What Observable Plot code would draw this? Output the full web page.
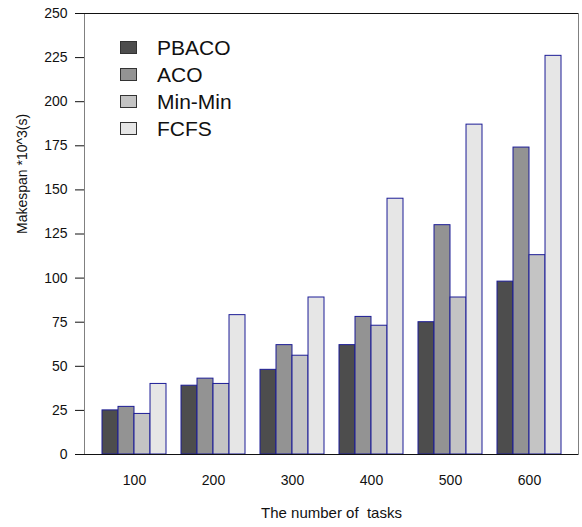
<!DOCTYPE html>
<html><head><meta charset="utf-8">
<script src="https://cdn.jsdelivr.net/npm/d3@7"></script>
<script src="https://cdn.jsdelivr.net/npm/@observablehq/plot@0.6"></script>
<style>
body{margin:0;background:#fff;font-family:"Liberation Sans",Arial,sans-serif;}
#wrap{position:relative;width:582px;height:527px;}
#legend{position:absolute;left:120px;top:34px;font-size:21px;color:#111;}
#legend .row{display:flex;align-items:center;height:27px;}
#legend .sw{width:17px;height:13px;border:1px solid #333;margin-right:20px;box-sizing:border-box;}
</style></head>
<body><div id="wrap"><div id="legend"></div></div>
<script>
const tasks = ["100","200","300","400","500","600"];
const series = ["PBACO","ACO","Min-Min","FCFS"];
const colors = ["#4d4d4d","#939393","#c4c4c4","#e6e6e6"];
const PBACO = [25,39,48,62,75,98];
const ACO = [27,43,62,78,130,174];
const MinMin = [23,40,56,73,89,113];
const FCFS = [40,79,89,145,187,226];
const yTicks = [0,25,50,75,100,125,150,175,200,225,250];
const xTitle = "The number of\u00a0 tasks";
const yTitle = "Makespan *10^3(s)";

const values = [PBACO, ACO, MinMin, FCFS];
const W = 582, H = 527, mL = 84, mR = 4, mT = 13, mB = 73;
const pIn = 0.19, pOut = 0.22;
const step = (W - mL - mR) / (tasks.length - pIn + 2 * pOut);
const bw = step * (1 - pIn);
const q = bw / 4;

const barMarks = values.map((vals, i) => Plot.barY(
  tasks.map((t, j) => ({task: t, value: vals[j]})),
  {x: "task", y: "value", fill: colors[i], stroke: "#1c1c96", strokeWidth: 1,
   insetLeft: i * q, insetRight: (3 - i) * q}
));

const chart = Plot.plot({
  width: W, height: H,
  marginLeft: mL, marginRight: mR, marginTop: mT, marginBottom: mB,
  style: {fontFamily: "Liberation Sans, Arial, sans-serif", fontSize: "14px", color: "#111", background: "#fff"},
  x: {domain: tasks, paddingInner: pIn, paddingOuter: pOut, tickSize: 0, tickPadding: 21, label: null},
  y: {domain: [0, 250], ticks: yTicks, tickSize: 9, tickPadding: 8, line: true, label: null},
  marks: [
    Plot.frame({stroke: "#808080"}),
    ...barMarks,
    Plot.ruleY([0, 250], {stroke: "#111"}),
    Plot.text([xTitle], {text: d => d, frameAnchor: "bottom", dy: 63, fontSize: 15, fill: "#111"}),
    Plot.text([yTitle], {text: d => d, frameAnchor: "left", dx: -62, rotate: -90, fontSize: 14, fill: "#111"})
  ]
});
document.getElementById("wrap").prepend(chart);

const lg = document.getElementById("legend");
series.forEach((s, i) => {
  const r = document.createElement("div"); r.className = "row";
  const sw = document.createElement("div"); sw.className = "sw"; sw.style.background = colors[i];
  const tx = document.createElement("span"); tx.textContent = s;
  r.append(sw, tx); lg.append(r);
});
</script></body></html>
